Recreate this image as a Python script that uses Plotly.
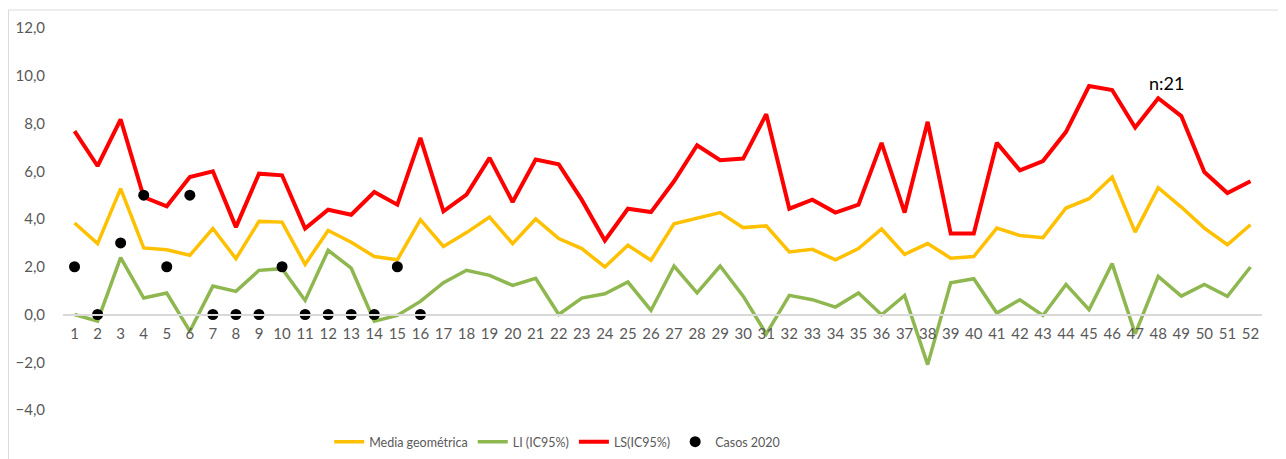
import plotly.graph_objects as go

weeks = list(range(1, 53))

media_geo = [3.83, 2.97, 5.27, 2.79, 2.71, 2.48, 3.60, 2.34, 3.90, 3.87,
             2.10, 3.52, 3.03, 2.43, 2.29, 3.97, 2.85, 3.43, 4.08, 2.97,
             4.00, 3.18, 2.76, 1.99, 2.90, 2.27, 3.80, 4.02, 4.27, 3.64,
             3.71, 2.62, 2.73, 2.29, 2.76, 3.58, 2.52, 2.97, 2.36, 2.43,
             3.62, 3.31, 3.22, 4.46, 4.85, 5.76, 3.45, 5.31, 4.50, 3.62,
             2.92, 3.76]

li_ic95 = [0.00, -0.28, 2.38, 0.69, 0.90, -0.70, 1.19, 0.97, 1.85, 1.92,
           0.59, 2.69, 1.94, -0.28, -0.04, 0.55, 1.33, 1.85, 1.64, 1.22,
           1.52, 0.00, 0.69, 0.87, 1.36, 0.17, 2.03, 0.91, 2.03, 0.77,
           -0.81, 0.80, 0.62, 0.31, 0.90, -0.01, 0.80, -2.10, 1.33, 1.50,
           0.06, 0.62, -0.04, 1.26, 0.20, 2.13, -0.81, 1.60, 0.77, 1.26,
           0.76, 1.99]

ls_ic95 = [7.68, 6.22, 8.17, 4.92, 4.53, 5.76, 6.00, 3.66, 5.90, 5.83,
           3.60, 4.39, 4.18, 5.13, 4.60, 7.40, 4.32, 5.02, 6.56, 4.71,
           6.49, 6.29, 4.80, 3.10, 4.43, 4.29, 5.58, 7.09, 6.46, 6.53,
           8.39, 4.43, 4.81, 4.27, 4.60, 7.19, 4.27, 8.07, 3.39, 3.39,
           7.19, 6.04, 6.43, 7.65, 9.57, 9.40, 7.83, 9.06, 8.31, 5.97,
           5.09, 5.58]

casos_weeks = list(range(1, 17))
casos_2020 = [2, 0, 3, 5, 2, 5, 0, 0, 0, 2, 0, 0, 0, 0, 2, 0]

GRAY = "#595959"
FONT = "Lato, Calibri, sans-serif"

fig = go.Figure()

fig.add_trace(go.Scatter(
    x=weeks, y=media_geo, mode="lines", name="Media geométrica",
    line=dict(color="#FFC000", width=3.5),
))
fig.add_trace(go.Scatter(
    x=weeks, y=li_ic95, mode="lines", name="LI (IC95%)",
    line=dict(color="#8FB74F", width=3.5),
))
fig.add_trace(go.Scatter(
    x=weeks, y=ls_ic95, mode="lines", name="LS(IC95%)",
    line=dict(color="#FF0000", width=4),
))
fig.add_trace(go.Scatter(
    x=casos_weeks, y=casos_2020, mode="markers", name="Casos 2020",
    marker=dict(color="#000000", size=11),
))

fig.add_annotation(
    x=48.36, y=9.7, xref="x", yref="y", text="n:21", showarrow=False,
    font=dict(family=FONT, size=18, color="#000000"),
)

# light frame around the whole chart
fig.add_shape(
    type="rect", xref="paper", yref="paper",
    x0=-0.0455, x1=1.0175, y0=-0.3, y1=1.047,
    line=dict(color="#D9D9D9", width=1), fillcolor="rgba(0,0,0,0)",
    layer="below",
)

# page body adds an 8px offset, margins are compensated for it
fig.update_layout(
    width=1286, height=459,
    paper_bgcolor="white", plot_bgcolor="white",
    font=dict(family=FONT, color=GRAY, size=14),
    margin=dict(l=55, r=32, t=20, b=57, autoexpand=False),
    showlegend=True,
    legend=dict(
        orientation="h", x=0.222, xanchor="left", y=-0.084, yanchor="middle",
        font=dict(size=12.5, color=GRAY), bgcolor="rgba(0,0,0,0)",
        itemwidth=30, tracegroupgap=0,
    ),
    xaxis=dict(
        range=[0.5, 52.5], tickmode="linear", tick0=1, dtick=1,
        showgrid=False, zeroline=False, showline=True,
        linecolor="#D9D9D9", linewidth=1.5,
        anchor="free", position=0.25, ticks="",
        ticklabelstandoff=6,
        tickfont=dict(size=15, color=GRAY),
    ),
    yaxis=dict(
        range=[-4, 12], tickmode="linear", tick0=-4, dtick=2,
        tickformat=".1f", showgrid=False, zeroline=False, showline=False,
        ticks="", ticklabelstandoff=17,
        tickfont=dict(size=15, color=GRAY),
    ),
    separators=",.",
)

fig.write_html("out.html")
